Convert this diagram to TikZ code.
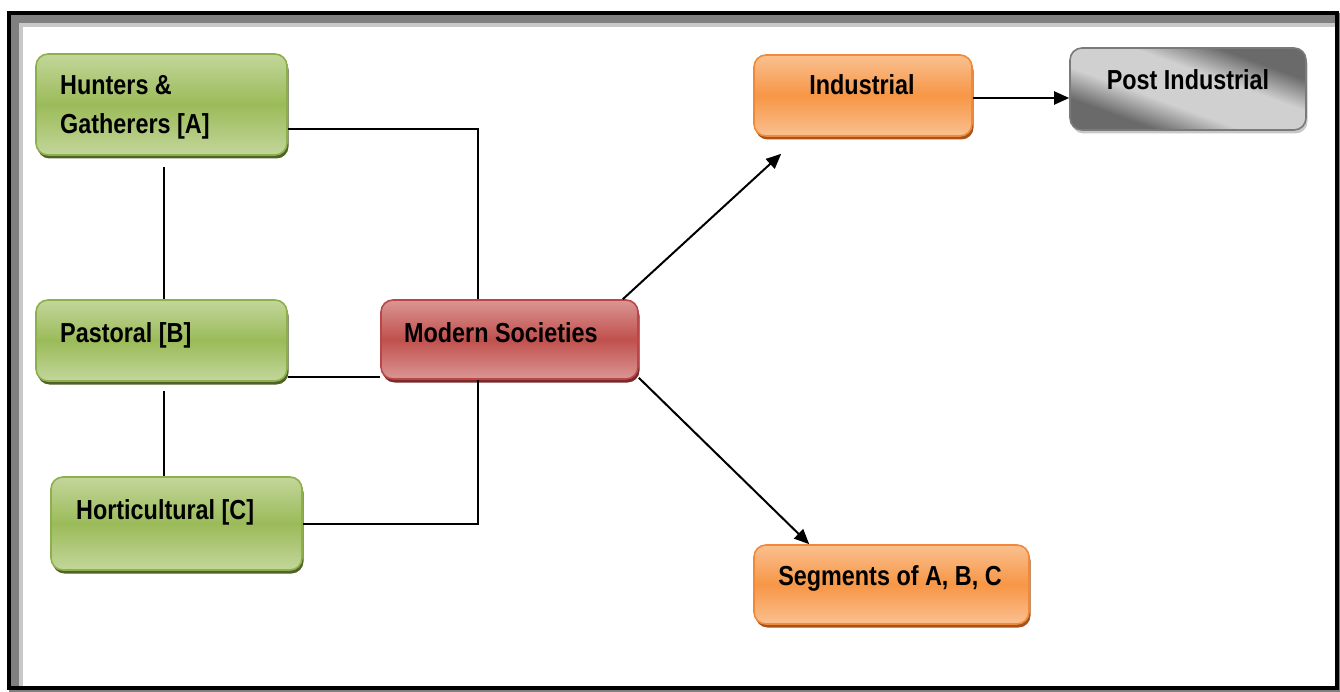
\documentclass[tikz,border=0pt]{standalone}
\usepackage{fontspec}
\setmainfont[FakeStretch=0.85]{Liberation Sans}
\usetikzlibrary{arrows.meta,shadows}

\definecolor{glight}{HTML}{C3D69B}
\definecolor{gmid}{HTML}{9BBB59}
\definecolor{gedge}{HTML}{8EB04C}
\definecolor{gshade}{HTML}{4F6228}
\definecolor{rlight}{HTML}{DA9694}
\definecolor{rmid}{HTML}{C0504D}
\definecolor{redge}{HTML}{B9474A}
\definecolor{rshade}{HTML}{7A2A28}
\definecolor{olight}{HTML}{FAC090}
\definecolor{omid}{HTML}{F79646}
\definecolor{oedge}{HTML}{F08A3A}
\definecolor{oshade}{HTML}{A5531A}
\definecolor{sdark}{HTML}{6A6A6A}
\definecolor{slight}{HTML}{D0D0D0}
\definecolor{sedge}{HTML}{7A7A7A}
\definecolor{sshade}{HTML}{C8C8C8}
\definecolor{framegrey}{HTML}{808080}
\definecolor{framelight}{HTML}{C8C8C8}

% brushed-metal look: dark at both ends, a broad light band across the middle
\pgfdeclarehorizontalshading{metal}{100bp}{color(0bp)=(sdark); color(30bp)=(sdark);
  color(42bp)=(slight); color(58bp)=(slight); color(70bp)=(sdark); color(100bp)=(sdark)}

\tikzset{
  card/.style={rounded corners=12pt, line width=1.6pt, inner sep=0pt},
  greencard/.style={card, draw=gedge, top color=glight, bottom color=glight, middle color=gmid,
    drop shadow={shadow xshift=1.5pt, shadow yshift=-3.5pt, fill=gshade, opacity=1}},
  redcard/.style={card, draw=redge, top color=rlight, bottom color=rlight, middle color=rmid,
    drop shadow={shadow xshift=1.5pt, shadow yshift=-3.5pt, fill=rshade, opacity=1}},
  orangecard/.style={card, draw=oedge, top color=olight, bottom color=olight, middle color=omid,
    drop shadow={shadow xshift=1.5pt, shadow yshift=-3.5pt, fill=oshade, opacity=1}},
  greycard/.style={card, draw=sedge, shading=metal, shading angle=70,
    drop shadow={shadow xshift=1.5pt, shadow yshift=-3.5pt, fill=sshade, opacity=1}},
  label/.style={inner sep=0pt, font=\bfseries\fontsize{27.5}{30}\selectfont, text=black},
  link/.style={line width=2pt, draw=black},
  flow/.style={link, -{Triangle[length=15pt,width=13pt]}}
}

\begin{document}
\begin{tikzpicture}[x=1pt, y=-1pt]
  \useasboundingbox (0,0) rectangle (1340,692);

  % page frame with bevelled inner edge
  \fill[framegrey] (9,13) rectangle (1340,692);
  \fill[black] (7,11) rectangle (1339,690);
  \fill[framegrey] (11,15) rectangle (1335,686);
  \fill[framelight] (19,23) rectangle (1335,686);
  \fill[white] (23,27) rectangle (1335,686);

  % society boxes
  \node[greencard, minimum width=251pt, minimum height=101pt] (hg) at (161.5,104.5) {};
  \node[greencard, minimum width=251pt, minimum height=81pt] (past) at (161.5,340.5) {};
  \node[greencard, minimum width=251pt, minimum height=93pt] (hort) at (176.5,523.5) {};
  \node[redcard, minimum width=257pt, minimum height=79pt] (modern) at (509.5,339.5) {};
  \node[orangecard, minimum width=218pt, minimum height=81pt] (ind) at (863,95.5) {};
  \node[greycard, minimum width=236pt, minimum height=82pt] (post) at (1188,89) {};
  \node[orangecard, minimum width=275pt, minimum height=79pt] (seg) at (891.5,584.5) {};

  % box texts
  \node[label, anchor=base west] (hgA) at (60,95) {Hunters \&};
  \node[label, anchor=base west] (hgB) at (60,134) {Gatherers [A]};
  \node[label, anchor=base west] (pastT) at (60,342) {Pastoral [B]};
  \node[label, anchor=base west] (hortT) at (76,519) {Horticultural [C]};
  \node[label, anchor=base west] (modernT) at (404,342) {Modern Societies};
  \node[label, anchor=base] (indT) at (862,95) {Industrial};
  \node[label, anchor=base] (postT) at (1188,90) {Post Industrial};
  \node[label, anchor=base] (segT) at (890,585) {Segments of A, B, C};

  % plain links between the earlier societies
  \draw[link] ([yshift=-24.5pt]hg.east) -| ([xshift=-31.5pt]modern.north);
  \draw[link] ([xshift=2.5pt,yshift=-11pt]hg.south) -- ([xshift=2.5pt]past.north);
  \draw[link] ([xshift=2.5pt,yshift=-9pt]past.south) -- ([xshift=-12.5pt]hort.north);
  \draw[link] ([yshift=5pt]past.south east) -- ([yshift=5pt]past.south east -| modern.west);
  \draw[link] ([xshift=-31.5pt]modern.south) |- (hort.east);

  % arrows out of the modern societies
  \draw[flow] ([xshift=-16pt]modern.north east) -- ([xshift=28pt,yshift=-17pt]ind.south west);
  \draw[flow] ([yshift=2pt]modern.south east) -- ([xshift=56pt]seg.north west);
  \draw[flow] ([yshift=-2.5pt]ind.east) -- ([yshift=-2.5pt]ind.east -| post.west);
\end{tikzpicture}
\end{document}
